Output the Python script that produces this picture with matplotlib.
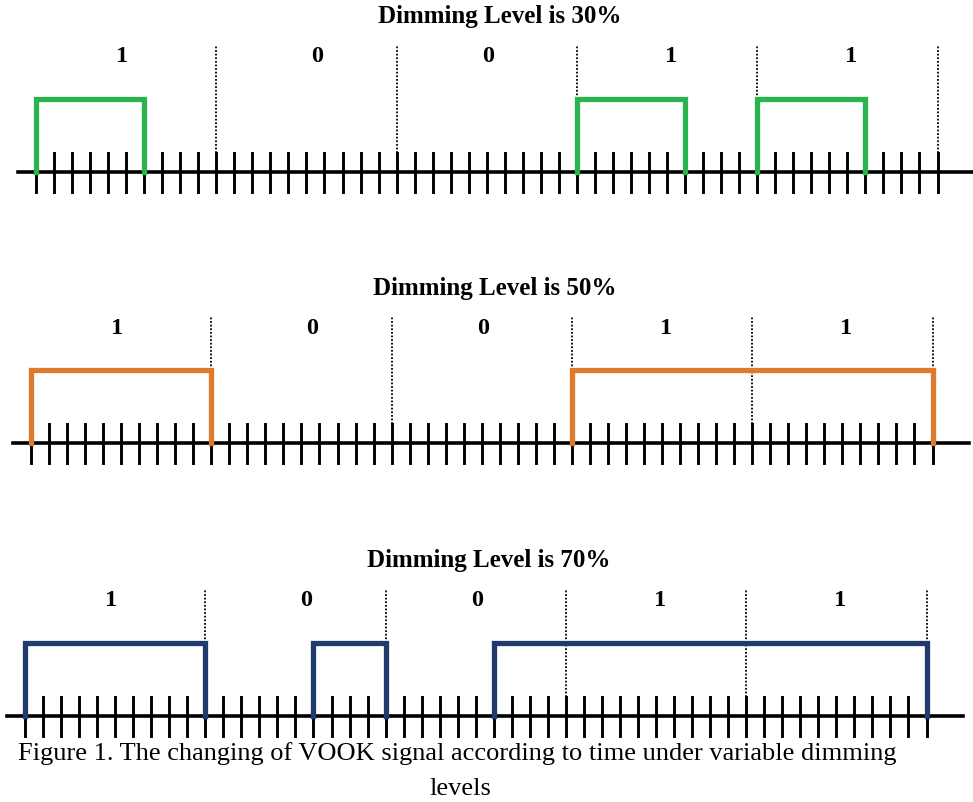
import matplotlib.pyplot as plt

# bits sent and the slot pattern (10 slots per bit) for each dimming level
bits = [1, 0, 0, 1, 1]
levels = ['30%', '50%', '70%']
one_slots = [[1, 1, 1, 1, 1, 1, 0, 0, 0, 0],
             [1, 1, 1, 1, 1, 1, 1, 1, 1, 1],
             [1, 1, 1, 1, 1, 1, 1, 1, 1, 1]]
zero_slots = [[0, 0, 0, 0, 0, 0, 0, 0, 0, 0],
              [0, 0, 0, 0, 0, 0, 0, 0, 0, 0],
              [0, 0, 0, 0, 0, 0, 1, 1, 1, 1]]
colors = ['#2bb34f', '#dd7a2e', '#1f3a6b']
label_shift = [-0.2, 0.6, 0.1, 0.2, 0.2]

# layout (pixels)
W, H = 973, 802
axis_y = [172, 443, 716]
start_x = [36, 31, 25]
slot_px = 18.03
unit_px = 73.0
nslot = 10

plt.rcParams['font.family'] = 'Liberation Serif'
fig = plt.figure(figsize=(W / 100, H / 100), dpi=100)

for k in range(3):
    bot, top = 32, 175
    ax = fig.add_axes([0, (H - axis_y[k] - bot) / H, 1, (bot + top) / H])
    ax.set_xlim(-start_x[k] / slot_px, (W - start_x[k]) / slot_px)
    ax.set_ylim(-bot / unit_px, top / unit_px)
    ax.axis('off')

    total = len(bits) * nslot
    # time axis
    ax.plot([-1, total + 2], [0, 0], color='black', lw=2.6, zorder=2)
    tick = 19.5 / unit_px
    for s in range(total + 1):
        ax.plot([s, s], [-tick, tick], color='black', lw=2.1, zorder=2)
    # bit boundaries
    for b in range(1, len(bits) + 1):
        ax.plot([b * nslot, b * nslot], [tick, 127 / unit_px], color='black',
                lw=1.3, ls=(0, (1, 1)), zorder=1)

    # signal levels per slot
    seq = []
    for b in bits:
        seq += one_slots[k] if b == 1 else zero_slots[k]
    s = 0
    while s < total:
        if seq[s] == 1:
            e = s
            while e < total and seq[e] == 1:
                e += 1
            ax.plot([s, s, e, e], [0, 1, 1, 0], color=colors[k], lw=3.8,
                    solid_joinstyle='miter', zorder=3)
            s = e
        else:
            s += 1

    for i, b in enumerate(bits):
        ax.text(i * nslot + nslot / 2 + label_shift[i], 115 / unit_px, str(b),
                ha='center', va='center', fontsize=17.5, fontweight='bold')
    ax.text(total / 2 + 0.7, 155 / unit_px, 'Dimming Level is ' + levels[k],
            ha='center', va='center', fontsize=18, fontweight='bold')

fig.text(18 / W, 1 - 754 / H,
         'Figure 1. The changing of VOOK signal according to time under variable dimming',
         ha='left', va='center', fontsize=19)
fig.text(460 / W, 1 - 789 / H, 'levels', ha='center', va='center', fontsize=19)

fig.savefig('out.png', dpi=100, facecolor='white')
